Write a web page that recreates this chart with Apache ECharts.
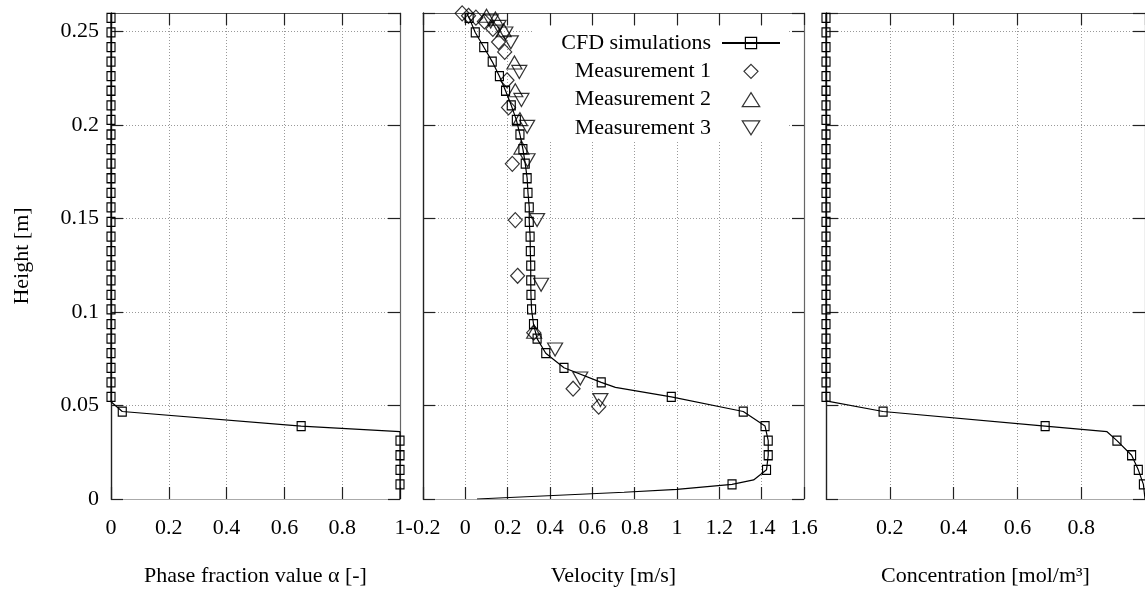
<!DOCTYPE html>
<html>
<head>
<meta charset="utf-8">
<script src="https://cdn.jsdelivr.net/npm/echarts@6/dist/echarts.min.js"></script>
<style>
  html, body { margin: 0; padding: 0; background: #fff; }
  #main { width: 1145px; height: 594px; }
</style>
</head>
<body>
<div id="main"></div>
<script>
// cell heights (m) where the CFD profile is marked, bottom to top
const cellHeights = [0.0078, 0.0156, 0.0234, 0.0312, 0.0390, 0.0468, 0.0546, 0.0624, 0.0702, 0.0780,
  0.0858, 0.0936, 0.1014, 0.1092, 0.1170, 0.1248, 0.1326, 0.1404, 0.1482, 0.1560, 0.1638, 0.1716,
  0.1794, 0.1872, 0.1950, 0.2028, 0.2106, 0.2184, 0.2262, 0.2340, 0.2418, 0.2496, 0.2574]

// CFD values at those heights
const alphaCfd = [1, 1, 1, 1, 0.658, 0.039, 0, 0, 0, 0, 0, 0, 0, 0, 0, 0, 0, 0, 0, 0, 0, 0, 0, 0, 0, 0, 0, 0, 0, 0, 0, 0, 0]
const velocityCfd = [1.260, 1.423, 1.431, 1.431, 1.416, 1.313, 0.973, 0.642, 0.466, 0.380, 0.339, 0.322,
  0.313, 0.310, 0.309, 0.309, 0.307, 0.306, 0.302, 0.302, 0.296, 0.292, 0.283, 0.272, 0.258, 0.241,
  0.217, 0.190, 0.161, 0.127, 0.087, 0.047, 0.018]
const concCfd = [0.995, 0.979, 0.958, 0.912, 0.687, 0.179, 0, 0, 0, 0, 0, 0, 0, 0, 0, 0, 0, 0, 0, 0, 0, 0, 0, 0, 0, 0, 0, 0, 0, 0, 0, 0, 0]

// unmarked points of the CFD curves [value, height]
const alphaLineOnly = [[1, 0], [1, 0.036], [0, 0.052], [0, 0.26]]
const velocityLineOnly = [[0.055, 0], [0.75, 0.0036], [1.0, 0.0052], [1.362, 0.0102], [0.709, 0.0597], [0.005, 0.26]]
const concLineOnly = [[1, 0], [0.881, 0.036], [0, 0.0525], [0, 0.26]]

// measurements [velocity, height]
const measurement1 = [[-0.015, 0.2598], [0.015, 0.2585], [0.05, 0.2575], [0.09, 0.2555], [0.13, 0.2515],
  [0.157, 0.2445], [0.186, 0.2392], [0.197, 0.224], [0.204, 0.2095], [0.222, 0.1793], [0.236, 0.1492],
  [0.247, 0.1194], [0.323, 0.089], [0.509, 0.059], [0.630, 0.0494]]
const measurement2 = [[0.10, 0.2585], [0.142, 0.257], [0.181, 0.2508], [0.232, 0.2335], [0.236, 0.2187],
  [0.258, 0.2032], [0.265, 0.1880], [0.325, 0.0895]]
const measurement3 = [[0.12, 0.2555], [0.157, 0.2526], [0.189, 0.249], [0.215, 0.2443], [0.255, 0.2285],
  [0.265, 0.2135], [0.292, 0.1991], [0.294, 0.1812], [0.339, 0.1492], [0.358, 0.1146], [0.424, 0.0800],
  [0.543, 0.0645], [0.638, 0.0529]]

const font = '"Liberation Serif", "DejaVu Serif", serif'
const fmt = v => String(Math.round(v * 100) / 100)

function profile(xs, lineOnly) {
  const pts = cellHeights.map((h, i) => ({ value: [xs[i], h] }))
  lineOnly.forEach(p => pts.push({ value: p, symbol: 'none' }))
  pts.sort((a, b) => b.value[1] - a.value[1])
  return pts
}

const grids = [
  { left: 111, top: 13, width: 289, height: 486 },
  { left: 423, top: 13, width: 381, height: 486 },
  { left: 826, top: 13, width: 326, height: 486 }
]
const xRanges = [[0, 1], [-0.2, 1.6], [0, 1]]
const xNames = ['Phase fraction value \u03b1 [-]', 'Velocity [m/s]', 'Concentration [mol/m\u00b3]']

const tick = { inside: true, length: 12, lineStyle: { color: '#222', width: 1.2 } }
const split = { show: true, lineStyle: { color: '#999', type: [1, 2], width: 1 } }

const xAxis = []
const yAxis = []
grids.forEach((g, i) => {
  xAxis.push({
    type: 'value', gridIndex: i, position: 'bottom',
    min: xRanges[i][0], max: xRanges[i][1], interval: 0.2,
    name: xNames[i], nameLocation: 'middle', nameGap: 66,
    nameTextStyle: { fontFamily: font, fontSize: 22, color: '#000' },
    axisLine: { onZero: false, lineStyle: { color: '#aaa', width: 1.2 } },
    axisTick: tick, splitLine: split,
    axisLabel: {
      fontFamily: font, fontSize: 22, color: '#000', margin: 18, formatter: fmt,
      showMinLabel: i !== 2, showMaxLabel: i !== 2
    }
  })
  yAxis.push({
    type: 'value', gridIndex: i, position: 'left',
    min: 0, max: 0.26, interval: 0.05,
    name: i === 0 ? 'Height [m]' : '', nameLocation: 'middle', nameGap: 78,
    nameTextStyle: { fontFamily: font, fontSize: 22, color: '#000' },
    axisLine: { onZero: false, lineStyle: { color: '#222', width: 1.4 } },
    axisTick: tick, splitLine: split,
    axisLabel: {
      show: i === 0, fontFamily: font, fontSize: 22, color: '#000', margin: 12,
      formatter: fmt, showMaxLabel: false
    }
  })
})
grids.forEach((g, i) => {
  xAxis.push({
    type: 'value', gridIndex: i, position: 'top',
    min: xRanges[i][0], max: xRanges[i][1], interval: 0.2,
    axisLine: { onZero: false, lineStyle: { color: '#555', width: 1.2 } },
    axisTick: tick, axisLabel: { show: false }, splitLine: { show: false }
  })
  yAxis.push({
    type: 'value', gridIndex: i, position: 'right',
    min: 0, max: 0.26, interval: 0.05,
    axisLine: { onZero: false, lineStyle: { color: '#666', width: 1.2 } },
    axisTick: tick, axisLabel: { show: false }, splitLine: { show: false }
  })
})

const hollow = { color: 'rgba(0,0,0,0)', borderColor: '#000', borderWidth: 1.2 }

function cfdSeries(name, i, data) {
  return {
    type: 'line', name: name, xAxisIndex: i, yAxisIndex: i, data: data,
    symbol: 'rect', symbolSize: [8, 9], showAllSymbol: true, color: '#000',
    lineStyle: { color: '#000', width: 1.2 }, itemStyle: hollow, z: 3
  }
}

function measSeries(name, data, symbol, size) {
  return {
    type: 'scatter', name: name, xAxisIndex: 1, yAxisIndex: 1, data: data,
    symbol: symbol, symbolSize: size, color: '#000', itemStyle: hollow, z: 4
  }
}

const series = [
  cfdSeries('CFD alpha', 0, profile(alphaCfd, alphaLineOnly)),
  cfdSeries('CFD simulations', 1, profile(velocityCfd, velocityLineOnly)),
  cfdSeries('CFD concentration', 2, profile(concCfd, concLineOnly)),
  measSeries('Measurement 1', measurement1, 'path://M1,0L2,1L1,2L0,1Z', [14, 15]),
  measSeries('Measurement 2', measurement2, 'path://M1,0L2,1.6L0,1.6Z', [15, 13]),
  measSeries('Measurement 3', measurement3, 'path://M0,0L2,0L1,1.6Z', [15, 13])
]

const chart = echarts.init(document.getElementById('main'))
chart.setOption({
  animation: false,
  backgroundColor: '#fff',
  textStyle: { fontFamily: font },
  grid: grids,
  xAxis: xAxis,
  yAxis: yAxis,
  legend: {
    data: ['CFD simulations', 'Measurement 1', 'Measurement 2', 'Measurement 3'],
    orient: 'vertical', align: 'right', right: 358, top: 27,
    padding: [5, 6, 3, 28], backgroundColor: '#fff',
    itemWidth: 58, itemHeight: 14, itemGap: 6.3, selectedMode: false,
    itemStyle: { borderWidth: 1.2, borderColor: '#000' },
    textStyle: { fontFamily: font, fontSize: 22, color: '#000', padding: [0, 6, 0, 0] }
  },
  series: series
})
</script>
</body>
</html>
